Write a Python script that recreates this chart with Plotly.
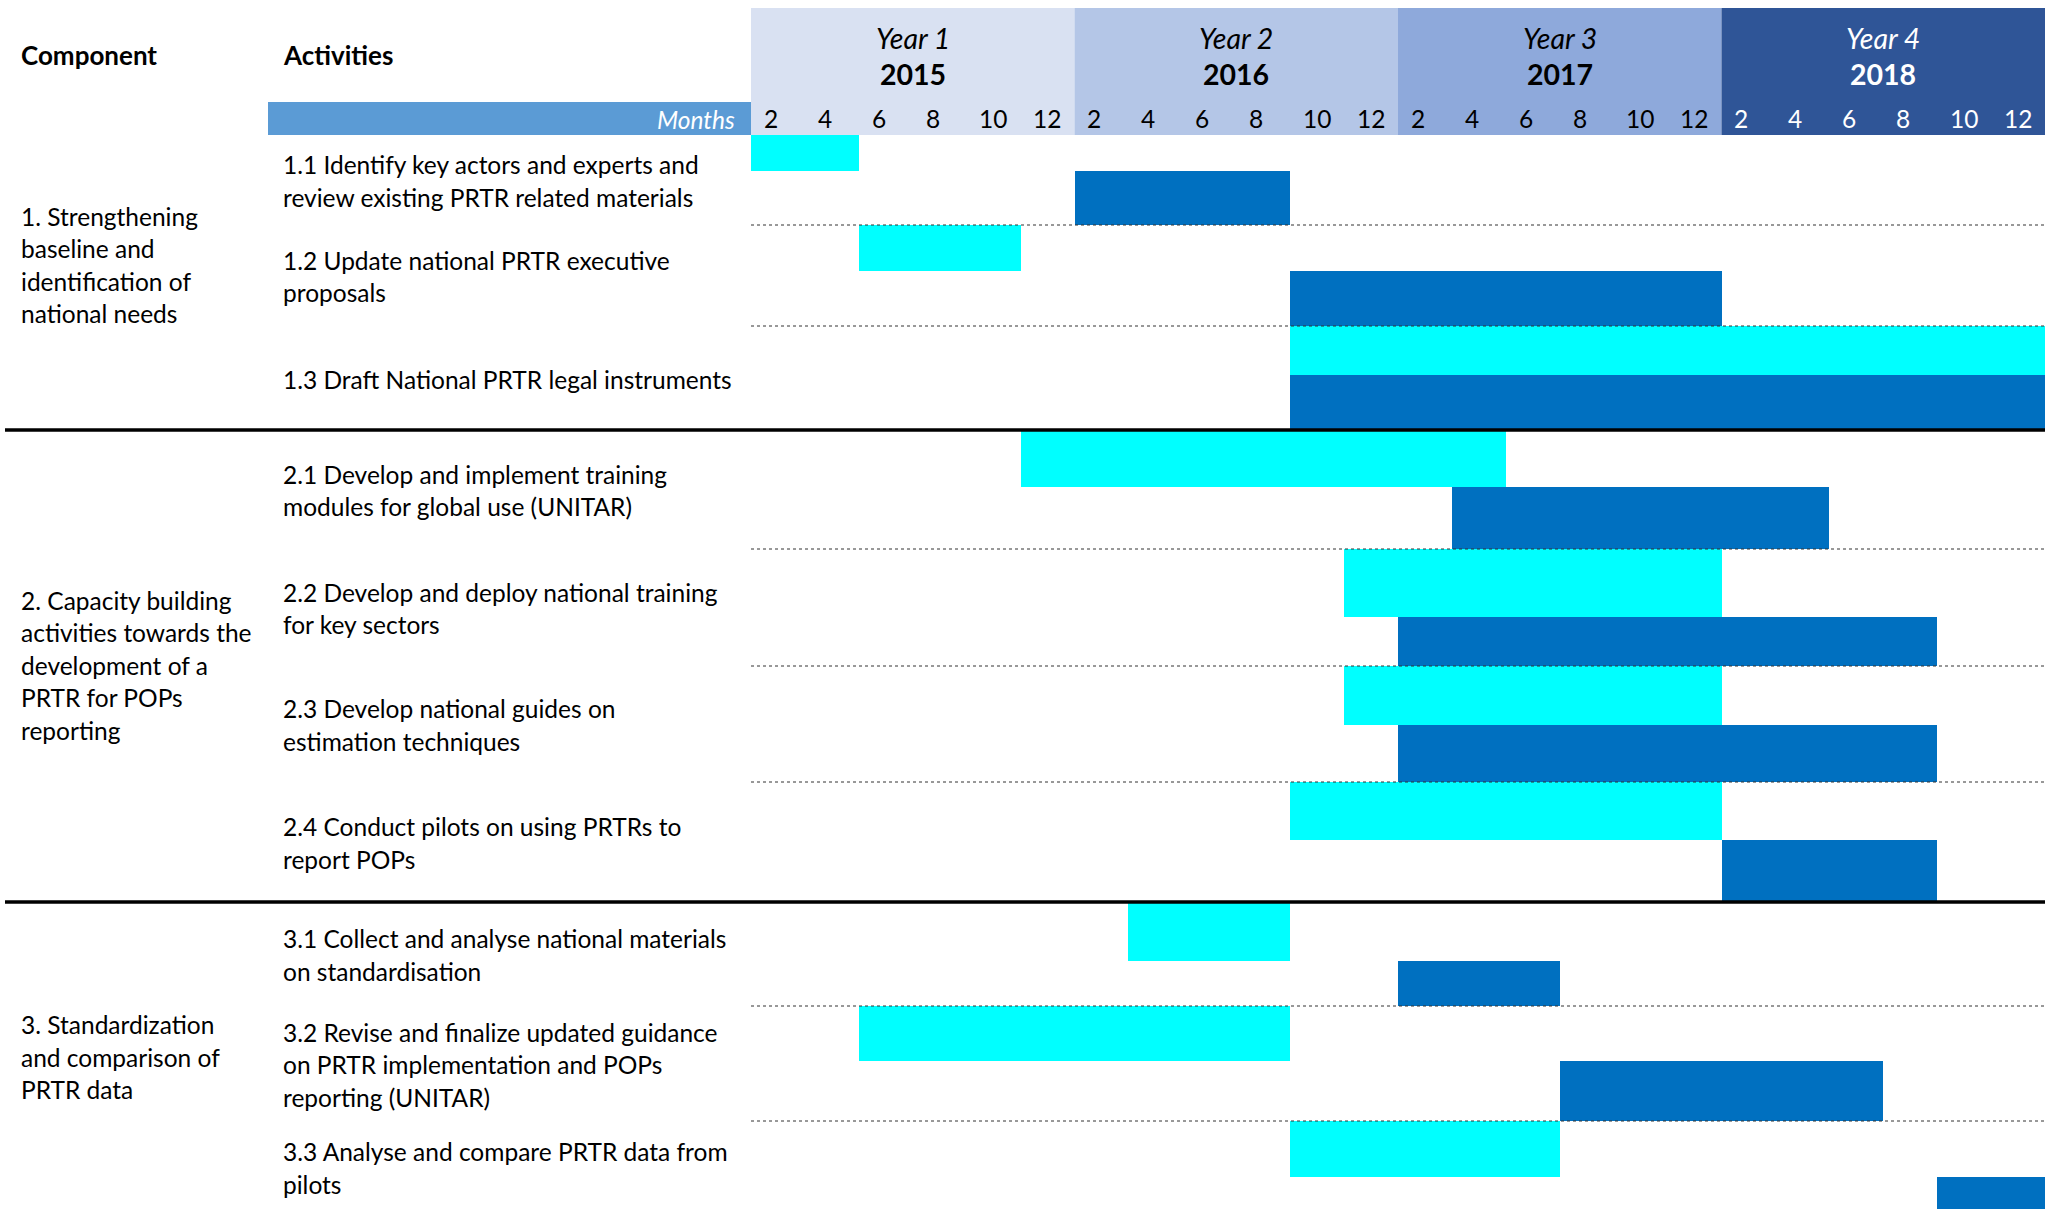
import plotly.graph_objects as go

# ---------------- data ----------------
years = ["Year 1", "Year 2", "Year 3", "Year 4"]
year_numbers = ["2015", "2016", "2017", "2018"]
month_ticks = [2, 4, 6, 8, 10, 12]

components = [
    "1. Strengthening<br>baseline and<br>identification of<br>national needs",
    "2. Capacity building<br>activities towards the<br>development of a<br>PRTR for POPs<br>reporting",
    "3. Standardization<br>and comparison of<br>PRTR data",
]
activities = [
    "1.1 Identify key actors and experts and<br>review existing PRTR related materials",
    "1.2 Update national PRTR executive<br>proposals",
    "1.3 Draft National PRTR legal instruments",
    "2.1 Develop and implement training<br>modules for global use (UNITAR)",
    "2.2 Develop and deploy national training<br>for key sectors",
    "2.3 Develop national guides on<br>estimation techniques",
    "2.4 Conduct pilots on using PRTRs to<br>report POPs",
    "3.1 Collect and analyse national materials<br>on standardisation",
    "3.2 Revise and finalize updated guidance<br>on PRTR implementation and POPs<br>reporting (UNITAR)",
    "3.3 Analyse and compare PRTR data from<br>pilots",
]
activity_component = [0, 0, 0, 1, 1, 1, 1, 2, 2, 2]

# months counted from the start of 2015 (0 = Jan 2015 start, 48 = end of 2018)
plan_start = [0, 4, 20, 10, 22, 22, 20, 14, 4, 20]
plan_end = [4, 10, 48, 28, 36, 36, 36, 20, 20, 30]
actual_start = [12, 20, 20, 26, 24, 24, 36, 24, 30, 44]
actual_end = [20, 36, 48, 40, 44, 44, 44, 30, 42, 48]

# ---------------- layout constants (pixels) ----------------
W, H = 2056, 1209
T0, T1 = 751, 2045          # timeline left / right pixel
MONTH_PX = (T1 - T0) / 48.0
X_MIN = -T0 / MONTH_PX
X_MAX = 48 + (W - T1) / MONTH_PX

def px2x(p):
    return (p - T0) / MONTH_PX

row_top = [135, 225, 326, 430, 549, 666, 782, 902, 1006, 1121]
row_split = [171, 271, 375, 487, 617, 725, 840, 961, 1061, 1177]
row_bot = [225, 326, 430, 549, 666, 782, 902, 1006, 1121, 1233]
comp_center = [265, 665, 1057]
LINE_H = 32.5

FONT = "Lato"
FS = 24.5
FS_HEAD = 26
FS_YEAR = 28.5
CYAN = "#00FFFF"
BLUE = "#0070C0"
year_fill = ["#D9E1F2", "#B4C6E7", "#8EA9DB", "#2F5597"]
year_text = ["black", "black", "black", "white"]

fig = go.Figure()

# bars: planned (cyan, upper sub-row) and actual (blue, lower sub-row)
fig.add_trace(go.Bar(
    orientation="h",
    base=plan_start,
    x=[e - s for s, e in zip(plan_start, plan_end)],
    y=[(t + s) / 2 for t, s in zip(row_top, row_split)],
    width=[s - t for t, s in zip(row_top, row_split)],
    marker=dict(color=CYAN, line=dict(width=0)),
    hoverinfo="skip", showlegend=False,
))
fig.add_trace(go.Bar(
    orientation="h",
    base=actual_start,
    x=[e - s for s, e in zip(actual_start, actual_end)],
    y=[(s + b) / 2 for s, b in zip(row_split, row_bot)],
    width=[b - s for s, b in zip(row_split, row_bot)],
    marker=dict(color=BLUE, line=dict(width=0)),
    hoverinfo="skip", showlegend=False,
))

shapes = []
annotations = []

# header year bands
for i in range(4):
    shapes.append(dict(type="rect", xref="x", yref="y", x0=i * 12, x1=i * 12 + 12,
                       y0=8, y1=135, fillcolor=year_fill[i], line=dict(width=0), layer="below"))
    annotations.append(dict(x=i * 12 + 6, y=38, xref="x", yref="y", text="<i>%s</i>" % years[i],
                            showarrow=False, font=dict(family=FONT, size=FS_YEAR, color=year_text[i])))
    annotations.append(dict(x=i * 12 + 6, y=74, xref="x", yref="y", text="<b>%s</b>" % year_numbers[i],
                            showarrow=False, font=dict(family=FONT, size=FS_YEAR, color=year_text[i])))
    for m in month_ticks:
        annotations.append(dict(x=i * 12 + m - 2 + 0.4, y=118, xref="x", yref="y", text=str(m),
                                xanchor="left", showarrow=False,
                                font=dict(family=FONT, size=FS, color=year_text[i])))

# months band
shapes.append(dict(type="rect", xref="x", yref="y", x0=px2x(268), x1=0, y0=102, y1=135,
                   fillcolor="#5B9BD5", line=dict(width=0), layer="below"))
annotations.append(dict(x=px2x(737), y=119, xref="x", yref="y", text="<i>Months</i>", xanchor="right",
                        showarrow=False, font=dict(family=FONT, size=FS, color="white")))

# column headers
annotations.append(dict(x=px2x(19), y=55, xref="x", yref="y", text="<b>Component</b>", xanchor="left",
                        showarrow=False, font=dict(family=FONT, size=FS_HEAD, color="black")))
annotations.append(dict(x=px2x(281), y=55, xref="x", yref="y", text="<b>Activities</b>", xanchor="left",
                        showarrow=False, font=dict(family=FONT, size=FS_HEAD, color="black")))

# separators
for i in range(1, len(activities)):
    if activity_component[i] != activity_component[i - 1]:
        shapes.append(dict(type="line", xref="x", yref="y", x0=px2x(5), x1=48,
                           y0=row_top[i], y1=row_top[i], line=dict(color="black", width=3.3)))
    else:
        shapes.append(dict(type="line", xref="x", yref="y", x0=0, x1=48,
                           y0=row_top[i], y1=row_top[i], line=dict(color="#333", width=1, dash="dot")))

# activity labels (one annotation per line)
for i, txt in enumerate(activities):
    lines = txt.split("<br>")
    c = (row_top[i] + row_bot[i]) / 2 + 1
    if i == len(activities) - 1:
        c = 1168
    for j, ln in enumerate(lines):
        y = c + (j - (len(lines) - 1) / 2) * LINE_H
        annotations.append(dict(x=px2x(281), y=y, xref="x", yref="y", text=ln, xanchor="left",
                                showarrow=False, font=dict(family=FONT, size=FS, color="black")))

# component labels
for k, txt in enumerate(components):
    lines = txt.split("<br>")
    for j, ln in enumerate(lines):
        y = comp_center[k] + (j - (len(lines) - 1) / 2) * LINE_H
        annotations.append(dict(x=px2x(19), y=y, xref="x", yref="y", text=ln, xanchor="left",
                                showarrow=False, font=dict(family=FONT, size=FS, color="black")))

fig.update_layout(
    width=W, height=H,
    margin=dict(l=0, r=0, t=0, b=0),
    paper_bgcolor="white", plot_bgcolor="white",
    barmode="overlay", bargap=0,
    shapes=shapes, annotations=annotations,
    xaxis=dict(range=[X_MIN, X_MAX], visible=False, fixedrange=True, domain=[0, 1]),
    yaxis=dict(range=[H, 0], visible=False, fixedrange=True, domain=[0, 1]),
    showlegend=False,
)

fig.write_html("out.html",
               config=dict(displayModeBar=False),
               post_script="document.body.style.margin='0';document.body.style.overflow='hidden';")
